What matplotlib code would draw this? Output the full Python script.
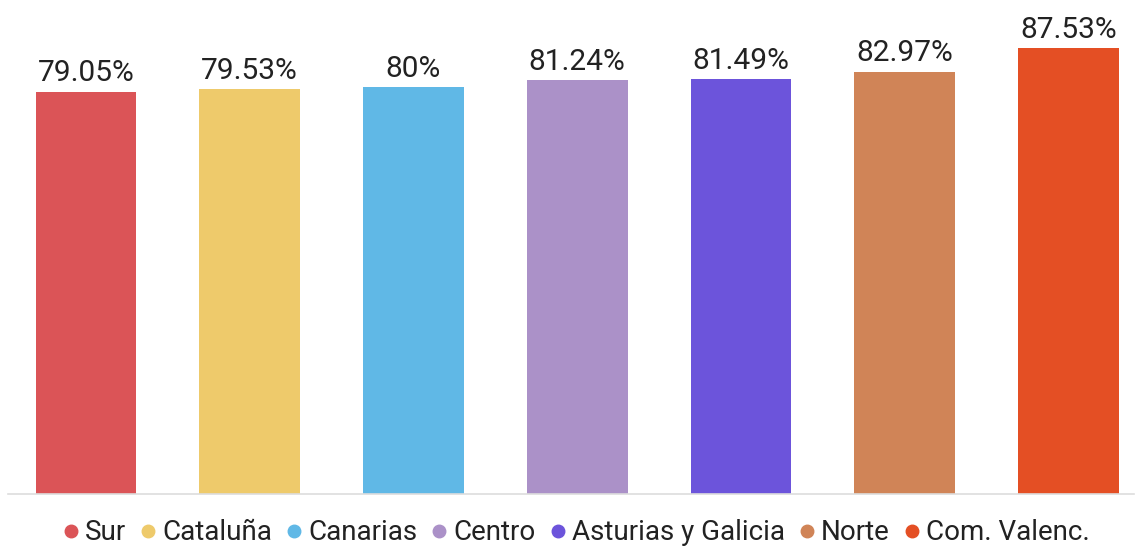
import matplotlib
matplotlib.use("Agg")
import matplotlib.pyplot as plt
from matplotlib.lines import Line2D

categories = ["Sur", "Cataluña", "Canarias", "Centro", "Asturias y Galicia", "Norte", "Com. Valenc."]
values = [79.05, 79.53, 80.0, 81.24, 81.49, 82.97, 87.53]
labels = ["79.05%", "79.53%", "80%", "81.24%", "81.49%", "82.97%", "87.53%"]
colors = ["#DB5457", "#EECA6B", "#60B8E6", "#AB91C8", "#6C54DB", "#D08457", "#E44F24"]

plt.rcParams['font.family'] = ['Roboto', 'DejaVu Sans']

fig = plt.figure(figsize=(11.35, 5.47), dpi=100)
ax = fig.add_axes([8/1135, 53.5/547, 1126/1135, 493.5/547])
x = list(range(len(categories)))
ax.bar(x, values, width=0.615, color=colors, zorder=2)
for xi, v, lab in zip(x, values, labels):
    ax.annotate(lab, (xi, v), xytext=(0, 3), textcoords="offset points",
                ha="center", va="bottom", fontsize=21.5, color="#222222")
ax.set_xlim(-0.476, 6.4)
ax.set_ylim(0, 97.05)
for s in ["top", "right", "left"]:
    ax.spines[s].set_visible(False)
ax.spines["bottom"].set_color("#DDDDDD")
ax.spines["bottom"].set_linewidth(1.2)
ax.set_xticks([])
ax.set_yticks([])

handles = [Line2D([], [], marker="o", linestyle="none", markersize=9,
                  markerfacecolor=c, markeredgecolor=c) for c in colors]
fig.legend(handles, categories, loc="center", bbox_to_anchor=(0.505, 14/547),
           ncol=7, frameon=False, fontsize=20, handletextpad=0.0,
           columnspacing=0.3, handlelength=1.0, labelcolor="#222222")

fig.savefig("out.png", dpi=100)
